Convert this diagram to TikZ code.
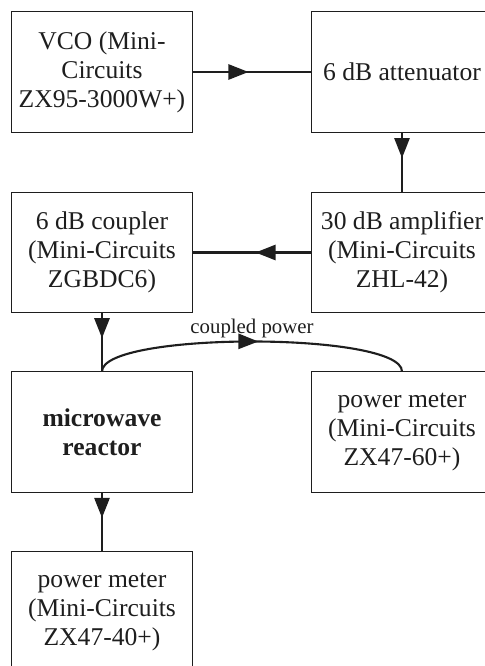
\documentclass[tikz,border=0pt]{standalone}
\usepackage{fontspec}
\setmainfont{Liberation Serif}
\usepackage{xcolor}
\definecolor{LineGray}{RGB}{30,30,30}
\usetikzlibrary{arrows.meta, decorations.markings}

\tikzset{
  bloque/.style={draw=LineGray, line width=0.7pt, minimum width=4.5cm,
    minimum height=3cm, inner sep=0pt, align=center, text=LineGray,
    font=\fontsize{18.2}{20.6}\selectfont},
  flecha/.style={draw=LineGray, line width=1.5pt, postaction={decorate},
    decoration={markings, mark=at position #1 with
      {\arrow{Triangle[length=0.5cm,width=0.38cm]}}}},
}

\begin{document}
\begin{tikzpicture}[x=0.025cm, y=0.025cm]
  \useasboundingbox (0,0) rectangle (485,666);
  % Cadena de la fuente
  \node[bloque] (vco) at (102,594) {VCO (Mini-\\Circuits\\ZX95-3000W+)};
  \node[bloque] (att) at (402,594) {6 dB attenuator};
  \node[bloque] (amp) at (402,413.5) {30 dB amplifier\\(Mini-Circuits\\ZHL-42)};
  \node[bloque] (cpl) at (102,413.5) {6 dB coupler\\(Mini-Circuits\\ZGBDC6)};
  % Reactor y medidores
  \node[bloque, font=\fontsize{18.2}{20.6}\selectfont\bfseries] (reac) at (102,234) {microwave\\reactor};
  \node[bloque] (pmr) at (402,234) {power meter\\(Mini-Circuits\\ZX47-60+)};
  \node[bloque] (pmb) at (102,54) {power meter\\(Mini-Circuits\\ZX47-40+)};
  % Conexiones
  \draw[flecha=0.47] (vco) -- (att);
  \draw[flecha=0.43] (att) -- (amp);
  \draw[flecha=0.47] (amp) -- (cpl);
  \draw[flecha=0.43] (cpl) -- (reac);
  \draw[flecha=0.43] (reac) -- (pmb);
  \draw[flecha=0.52] (reac.north) .. controls +(0,40) and +(0,40) ..
    node[above, inner sep=2pt, text=LineGray, font=\fontsize{14.8}{16}\selectfont] (lbl) {coupled power}
    (pmr.north);
\end{tikzpicture}
\end{document}
